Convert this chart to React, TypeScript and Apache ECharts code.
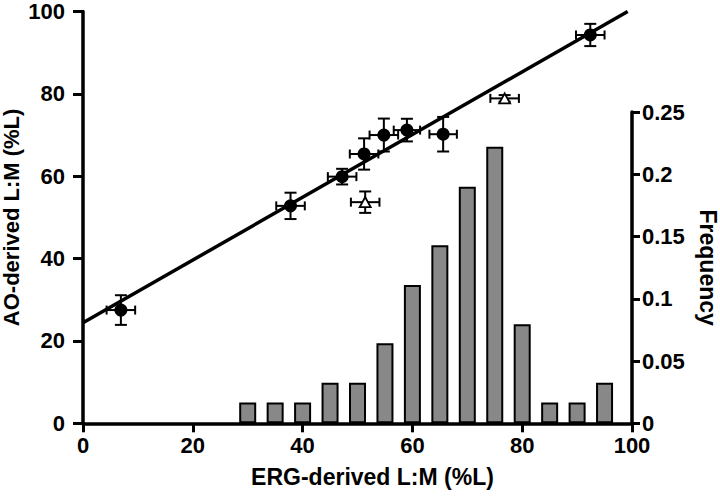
import React, { useEffect, useRef } from "react";
import * as echarts from "echarts";

// Scatter points (filled circles): ERG-derived vs AO-derived L:M with SEM
const circleX = [6.9, 37.8, 47.2, 51.2, 54.8, 59.0, 65.6, 92.4];
const circleY = [27.5, 52.8, 59.9, 65.4, 70.0, 71.2, 70.2, 94.3];
const circleXErr = [2.6, 2.6, 2.6, 2.6, 2.6, 2.4, 2.5, 2.6];
const circleYErr = [3.6, 3.2, 1.9, 3.8, 4.0, 2.75, 4.2, 2.7];

// Open triangles
const triX = [51.4, 76.8];
const triY = [53.7, 78.9];
const triXErr = [2.6, 2.6];
const triYErr = [2.6, 0.8];

// Regression line
const lineIntercept = 24.4;
const lineSlope = 0.762;

// Histogram of ERG-derived L:M
const binCenters = [30, 35, 40, 45, 50, 55, 60, 65, 70, 75, 80, 85, 90, 95];
const frequency = [0.0167, 0.0167, 0.0167, 0.0326, 0.0326, 0.0643, 0.111, 0.143, 0.19, 0.222, 0.0796, 0.0167, 0.0167, 0.0326];

const xTicks = [0, 20, 40, 60, 80, 100];
const leftTicks = [0, 20, 40, 60, 80, 100];
const rightTicks = [0, 0.05, 0.1, 0.15, 0.2, 0.25];

const FONT = "Liberation Sans";

export default function App() {
  const ref = useRef<HTMLDivElement>(null);
  useEffect(() => {
    if (!ref.current) return;
    const chart = echarts.init(ref.current, null, { renderer: "svg" });

    const errData = [
      ...circleX.map((x, i) => [x, circleY[i], circleXErr[i], circleYErr[i]]),
      ...triX.map((x, i) => [x, triY[i], triXErr[i], triYErr[i]]),
    ];
    const xEnd = (100 - lineIntercept) / lineSlope;

    const labelStyle = { fontFamily: FONT, fontWeight: "bold" as const, fontSize: 22, color: "#000", lineHeight: 16 };
    const nameStyle = { fontFamily: FONT, fontWeight: "bold" as const, fontSize: 23, color: "#000" };
    const axisLine = { show: true, onZero: false, lineStyle: { color: "#000", width: 3.5 } };

    chart.setOption({
      animation: false,
      backgroundColor: "#fff",
      grid: [
        { left: 83, right: 88, top: 11.5, bottom: 76.7, containLabel: false, outerBoundsMode: "none" },
        { left: 83, right: 88, top: 112, bottom: 76.7, containLabel: false, outerBoundsMode: "none" },
      ],
      xAxis: [
        {
          type: "value",
          gridIndex: 0,
          min: xTicks[0],
          max: xTicks[xTicks.length - 1],
          interval: 20,
          name: "ERG-derived L:M (%L)",
          nameLocation: "middle",
          nameGap: 42,
          nameMoveOverlap: false,
          nameTextStyle: { ...nameStyle, padding: [0, 0, 0, 30] },
          axisLine,
          axisTick: { show: true, length: 9, lineStyle: { color: "#000", width: 3 } },
          axisLabel: { ...labelStyle, margin: 14 },
          splitLine: { show: false },
        },
        {
          type: "value",
          gridIndex: 1,
          min: 0,
          max: 100,
          show: false,
        },
      ],
      yAxis: [
        {
          type: "value",
          gridIndex: 0,
          min: leftTicks[0],
          max: leftTicks[leftTicks.length - 1],
          interval: 20,
          name: "AO-derived L:M (%L)",
          nameLocation: "middle",
          nameRotate: 90,
          nameGap: 60,
          nameMoveOverlap: false,
          nameTextStyle: { ...nameStyle, fontSize: 22, lineHeight: 24 },
          axisLine,
          axisTick: { show: true, length: 10, lineStyle: { color: "#000", width: 3 } },
          axisLabel: { ...labelStyle, margin: 18 },
          splitLine: { show: false },
        },
        {
          type: "value",
          gridIndex: 1,
          position: "right",
          min: rightTicks[0],
          max: rightTicks[rightTicks.length - 1],
          interval: 0.05,
          name: "Frequency",
          nameLocation: "middle",
          nameRotate: -90,
          nameGap: 64,
          nameTextStyle: nameStyle,
          axisLine,
          axisTick: { show: true, length: 8, lineStyle: { color: "#000", width: 3 } },
          axisLabel: { ...labelStyle, margin: 10, formatter: (v: number) => String(+v.toFixed(2)) },
          splitLine: { show: false },
        },
      ],
      series: [
        {
          type: "bar",
          xAxisIndex: 1,
          yAxisIndex: 1,
          barWidth: 17,
          data: binCenters.map((x, i) => [x, frequency[i]]),
          itemStyle: { color: "#888888", borderColor: "#000", borderWidth: 2 },
          z: 1,
        },
        {
          type: "line",
          xAxisIndex: 0,
          yAxisIndex: 0,
          data: [
            [0, lineIntercept],
            [xEnd, lineIntercept + lineSlope * xEnd],
          ],
          showSymbol: false,
          symbol: "none",
          lineStyle: { color: "#000", width: 3.5 },
          z: 2,
        },
        {
          type: "custom",
          xAxisIndex: 0,
          yAxisIndex: 0,
          data: errData,
          encode: { x: 0, y: 1 },
          z: 3,
          renderItem: (params: any, api: any) => {
            const x = api.value(0);
            const y = api.value(1);
            const ex = api.value(2);
            const ey = api.value(3);
            const l = api.coord([x - ex, y]);
            const r = api.coord([x + ex, y]);
            const t = api.coord([x, y + ey]);
            const b = api.coord([x, y - ey]);
            const capV = 4.5;
            const capH = 6;
            const style = { stroke: "#000", lineWidth: 2 };
            return {
              type: "group",
              children: [
                { type: "line", shape: { x1: l[0], y1: l[1], x2: r[0], y2: r[1] }, style },
                { type: "line", shape: { x1: l[0], y1: l[1] - capV, x2: l[0], y2: l[1] + capV }, style },
                { type: "line", shape: { x1: r[0], y1: r[1] - capV, x2: r[0], y2: r[1] + capV }, style },
                { type: "line", shape: { x1: t[0], y1: t[1], x2: b[0], y2: b[1] }, style },
                { type: "line", shape: { x1: t[0] - capH, y1: t[1], x2: t[0] + capH, y2: t[1] }, style },
                { type: "line", shape: { x1: b[0] - capH, y1: b[1], x2: b[0] + capH, y2: b[1] }, style },
              ],
            };
          },
        },
        {
          type: "scatter",
          xAxisIndex: 0,
          yAxisIndex: 0,
          symbol: "circle",
          symbolSize: 13,
          data: circleX.map((x, i) => [x, circleY[i]]),
          itemStyle: { color: "#000", opacity: 1 },
          z: 4,
        },
        {
          type: "scatter",
          xAxisIndex: 0,
          yAxisIndex: 0,
          symbol: "triangle",
          symbolSize: [11, 10],
          data: triX.map((x, i) => [x, triY[i]]),
          itemStyle: { color: "#fff", borderColor: "#000", borderWidth: 1.8, opacity: 1 },
          z: 4,
        },
      ],
    });
    return () => chart.dispose();
  }, []);
  return (
    <div
      ref={ref}
      style={{ position: "fixed", left: 0, top: 0, width: 720, height: 500, background: "#fff" }}
    />
  );
}
